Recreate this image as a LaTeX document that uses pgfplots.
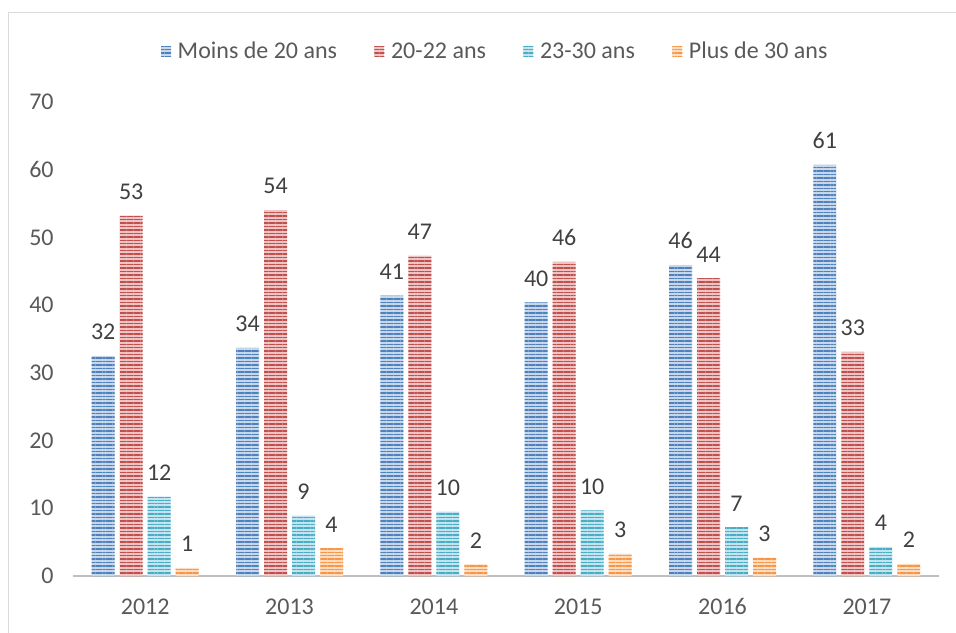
\documentclass[border=0pt]{standalone}
\usepackage{pgfplots}
\pgfplotsset{compat=1.18}
\usepackage{fontspec}
\setmainfont{Carlito}
\usetikzlibrary{patterns.meta}

\definecolor{cBlue}{HTML}{4F81BD}\definecolor{lBlue}{HTML}{C6D7EC}
\definecolor{cRed}{HTML}{C0504D}\definecolor{lRed}{HTML}{EDC4C3}
\definecolor{cCyan}{HTML}{4BACC6}\definecolor{lCyan}{HTML}{C2E4EE}
\definecolor{cOrange}{HTML}{F79646}\definecolor{lOrange}{HTML}{FDDCC0}
\definecolor{tickgray}{HTML}{595959}
\definecolor{labgray}{HTML}{404040}
\definecolor{axisgray}{HTML}{BFBFBF}
\definecolor{framegray}{HTML}{D9D9D9}

\tikzset{stripe/.style 2 args={draw=none, preaction={fill=#2},
  pattern={Lines[angle=0,distance=2.6pt,line width=1.1pt]}, pattern color=#1}}

\newcommand{\chartfont}{\fontsize{18}{21.6}\selectfont}

\begin{document}
\begin{tikzpicture}
\begin{axis}[
  at={(54.75pt,42pt)}, anchor=south west,
  scale only axis, width=649.5pt, height=355.5pt,
  xmin=-0.5, xmax=5.5, ymin=0, ymax=70,
  ybar=3.75pt, bar width=17.25pt,
  axis lines*=left,
  y axis line style={draw=none},
  x axis line style={color=axisgray, line width=1.6pt},
  major tick length=0pt,
  xtick={0,1,2,3,4,5},
  xticklabels={2012,2013,2014,2015,2016,2017},
  ytick={0,10,20,30,40,50,60,70},
  tick label style={font=\chartfont, text=tickgray},
  y tick label style={xshift=-11pt},
  x tick label style={yshift=-13.5pt},
  /pgf/number format/assume math mode=true,
  nodes near coords,
  point meta=explicit symbolic,
  nodes near coords style={font=\chartfont, text=labgray, yshift=8.5pt},
  legend columns=4,
  legend style={draw=none, fill=none, at={(0.488,1.107)}, anchor=center,
    font=\chartfont, text=tickgray,
    /tikz/every odd column/.append style={column sep=3pt},
    /tikz/every even column/.append style={column sep=26pt}},
  legend image code/.code={\path[#1] (0pt,-3.75pt) rectangle (7.5pt,3.75pt);},
]
\addplot[stripe={cBlue}{lBlue}] coordinates {
 (0,32.5) [32] (1,33.7) [34] (2,41.4) [41] (3,40.4) [40] (4,45.9) [46] (5,60.7) [61]};
\addlegendentry{Moins de 20 ans}
\addplot[stripe={cRed}{lRed}] coordinates {
 (0,53.2) [53] (1,54.05) [54] (2,47.3) [47] (3,46.4) [46] (4,44.0) [44] (5,33.1) [33]};
\addlegendentry{20-22 ans}
\addplot[stripe={cCyan}{lCyan}] coordinates {
 (0,11.7) [12] (1,8.9) [9] (2,9.5) [10] (3,9.7) [10] (4,7.2) [7] (5,4.3) [4]};
\addlegendentry{23-30 ans}
\addplot[stripe={cOrange}{lOrange}] coordinates {
 (0,1.2) [1] (1,4.1) [4] (2,1.7) [2] (3,3.3) [3] (4,2.7) [3] (5,1.8) [2]};
\addlegendentry{Plus de 30 ans}
\end{axis}
\draw[framegray, line width=1.1pt] (6.375pt,-5pt) -- (6.375pt,464.6pt) -- (730pt,464.6pt);
\pgfresetboundingbox
\useasboundingbox (0,0) rectangle (717pt,474pt);
\end{tikzpicture}
\end{document}
